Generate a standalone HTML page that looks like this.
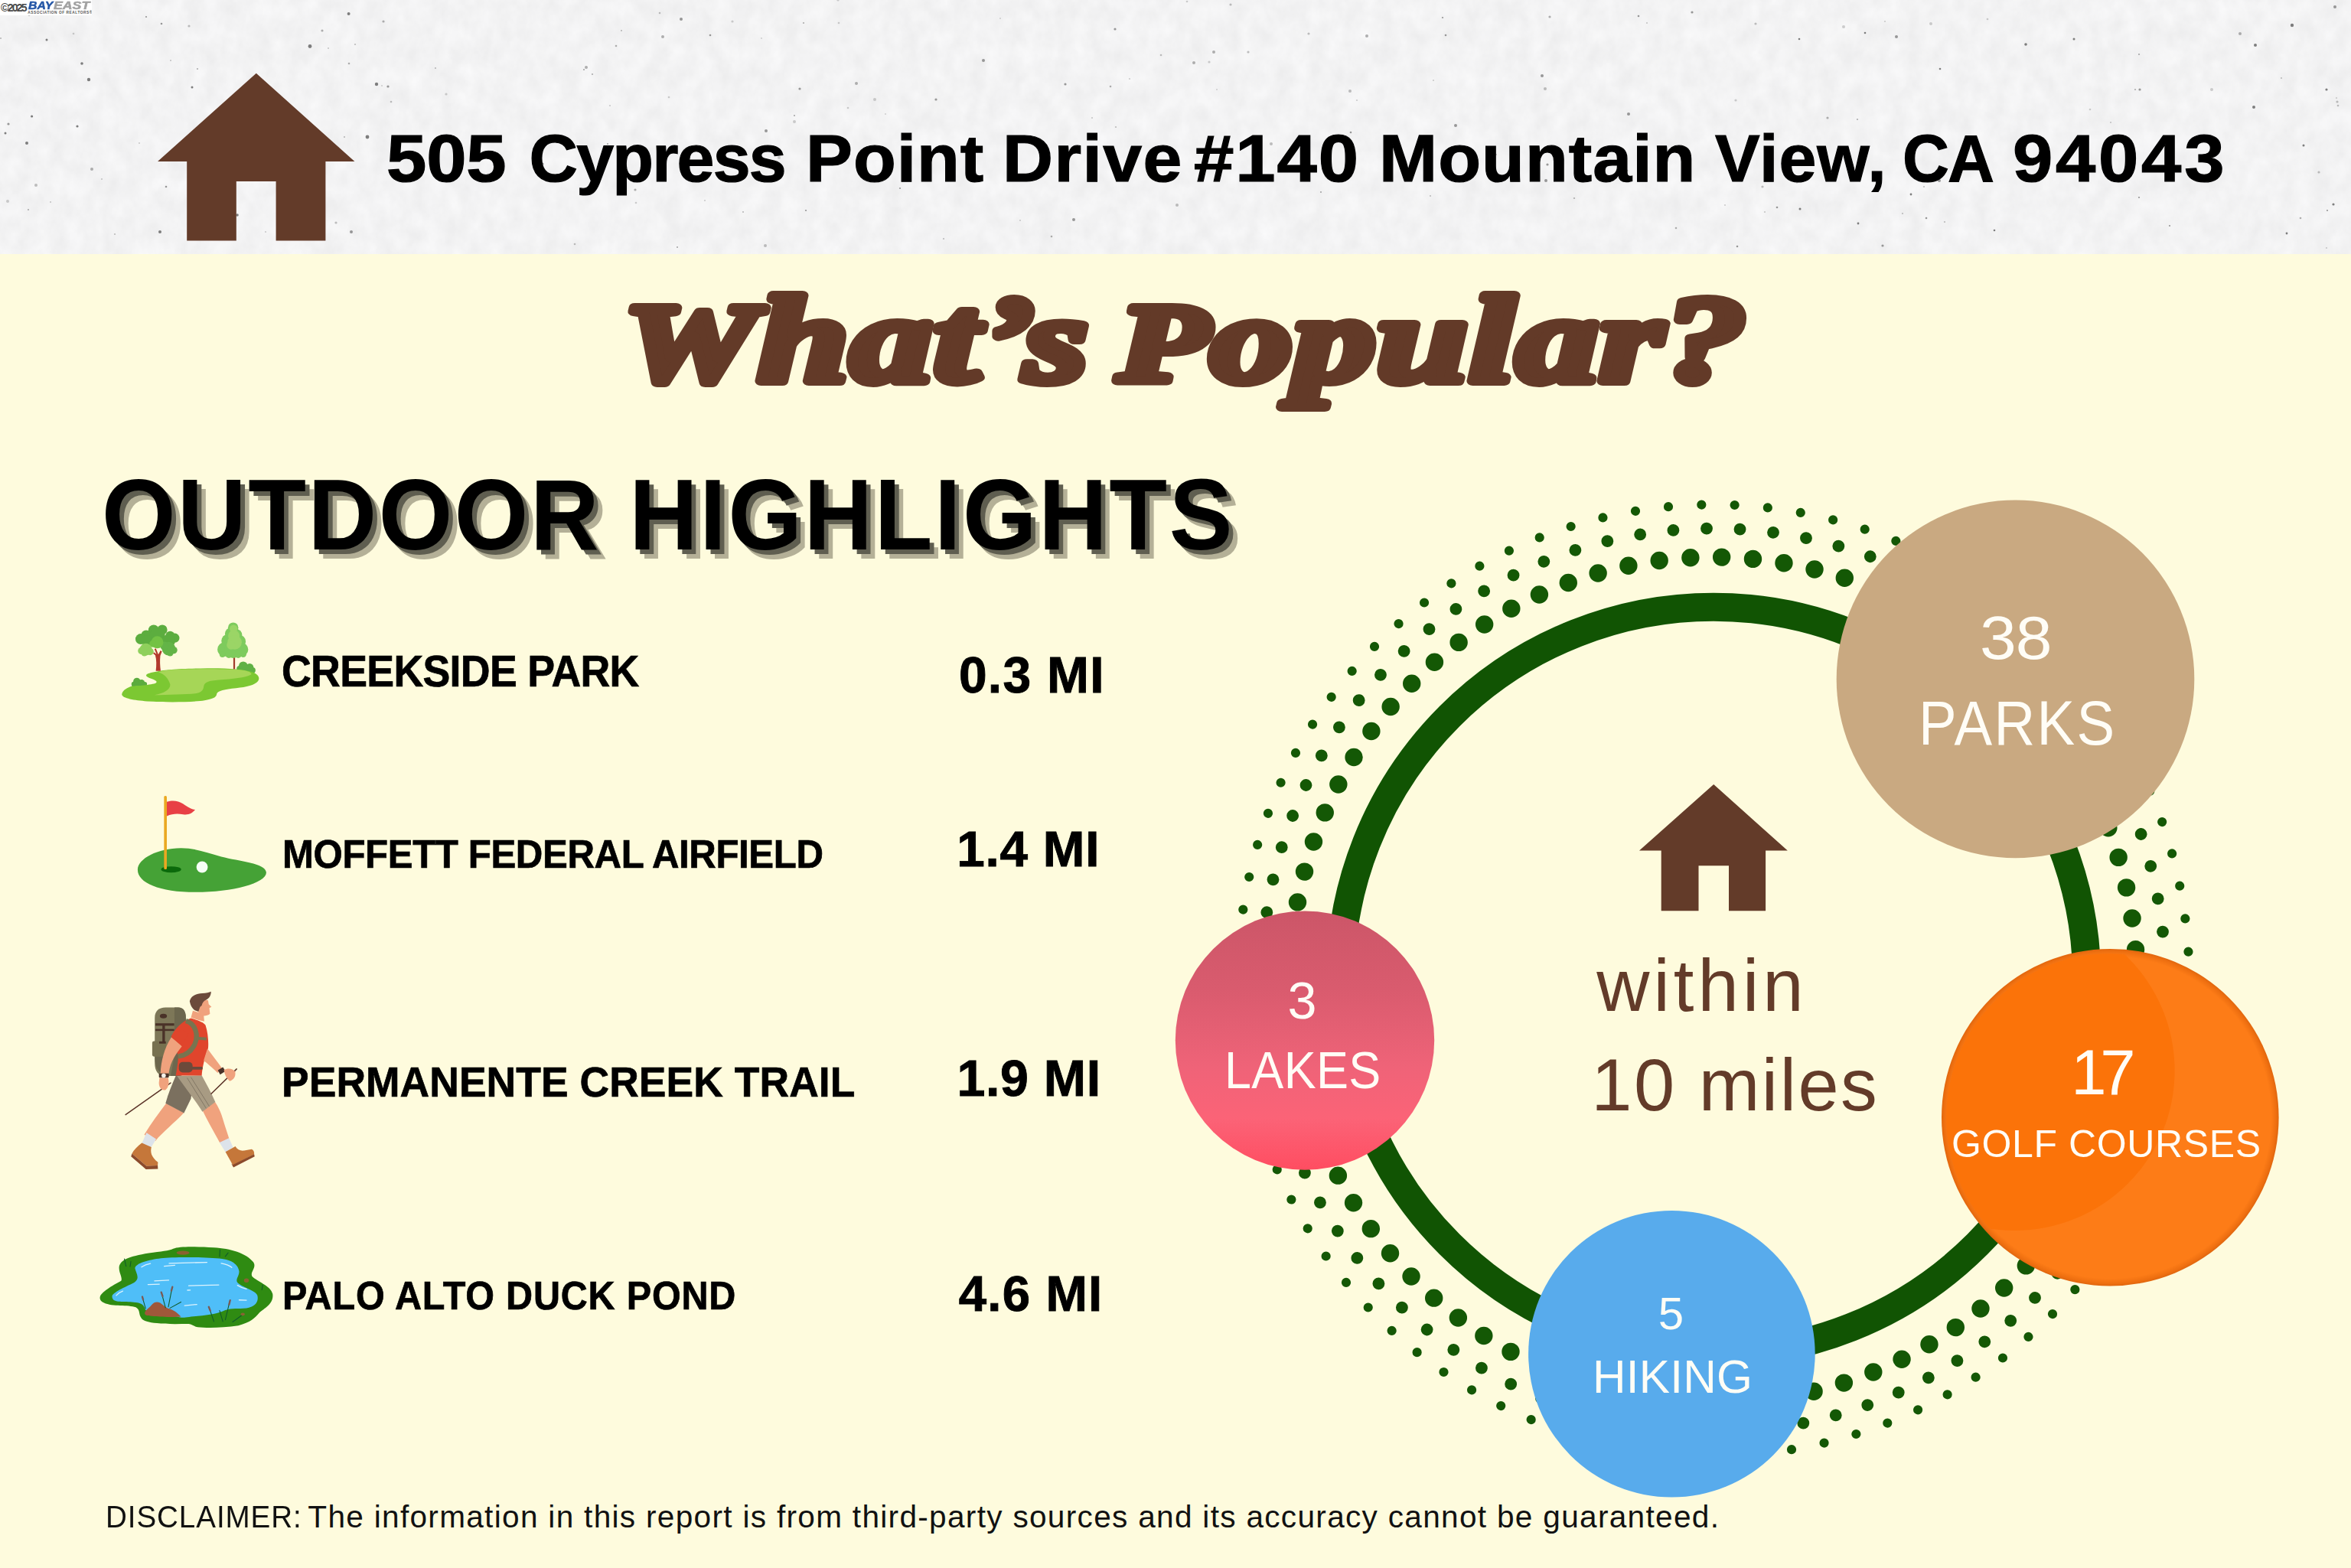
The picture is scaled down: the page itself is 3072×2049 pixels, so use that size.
<!DOCTYPE html>
<html lang="en">
<head>
<meta charset="utf-8">
<title>What's Popular? - 505 Cypress Point Drive #140</title>
<style>
html,body{margin:0;padding:0;}
body{width:3072px;height:2049px;position:relative;overflow:hidden;background:#fefbdd;font-family:"Liberation Sans",sans-serif;}
.abs{position:absolute;}
.t{position:absolute;white-space:pre;line-height:1;color:#000;font-family:"Liberation Sans",sans-serif;}
.b{font-weight:700;}
.w{color:#fffdf6;}
#hdr{left:0;top:0;width:3072px;height:332px;background:#f1f1f1;overflow:hidden;}
svg{position:absolute;overflow:visible;}
</style>
</head>
<body>
<!-- HEADER -->
<div id="hdr" class="abs">
<!--HDRTEX-START--><svg style="left:0;top:0" width="3072" height="332" viewBox="0 0 3072 332">
<defs><filter id="pn" x="0" y="0" width="100%" height="100%" color-interpolation-filters="sRGB"><feTurbulence type="fractalNoise" baseFrequency="0.045 0.035" numOctaves="5" seed="5"/><feColorMatrix type="matrix" values="0.06 0 0 0 0.922  0.06 0 0 0 0.922  0.06 0 0 0 0.925  0 0 0 0 1"/></filter></defs>
<rect x="0" y="0" width="3072" height="332" fill="#f1f1f1" filter="url(#pn)"/>
<circle cx="116" cy="104" r="2.2" fill="#555" opacity="0.75"/><circle cx="405" cy="60.5" r="2.4" fill="#555" opacity="0.75"/><circle cx="492" cy="110" r="2.2" fill="#555" opacity="0.75"/><circle cx="480" cy="179" r="2.4" fill="#555" opacity="0.75"/><circle cx="35" cy="187" r="2" fill="#555" opacity="0.75"/><circle cx="209" cy="303" r="2" fill="#555" opacity="0.75"/><circle cx="310" cy="281" r="1.8" fill="#555" opacity="0.75"/><circle cx="107" cy="83" r="1.8" fill="#555" opacity="0.75"/><circle cx="455.6" cy="18" r="2" fill="#555" opacity="0.75"/><circle cx="101" cy="165" r="1.6" fill="#555" opacity="0.75"/><circle cx="41.6" cy="152" r="1.6" fill="#555" opacity="0.75"/><circle cx="251" cy="114" r="1.5" fill="#555" opacity="0.75"/><circle cx="61" cy="52" r="1.5" fill="#555" opacity="0.75"/><circle cx="7" cy="174" r="1.5" fill="#555" opacity="0.75"/><circle cx="2351" cy="51" r="1.3" fill="#555" opacity="0.75"/><circle cx="2437" cy="43" r="1.3" fill="#555" opacity="0.75"/><circle cx="2710" cy="51" r="1.5" fill="#555" opacity="0.75"/><circle cx="2647" cy="58" r="1.8" fill="#555" opacity="0.75"/><circle cx="2947" cy="59" r="2.0" fill="#555" opacity="0.75"/><circle cx="2995" cy="33" r="2.2" fill="#555" opacity="0.75"/><circle cx="3040" cy="117" r="1.6" fill="#555" opacity="0.75"/><circle cx="2945" cy="140" r="2" fill="#555" opacity="0.75"/><circle cx="3010" cy="190" r="1.5" fill="#555" opacity="0.75"/><circle cx="3049" cy="267" r="1.6" fill="#555" opacity="0.75"/><circle cx="2988" cy="305" r="1.4" fill="#555" opacity="0.75"/><circle cx="2352" cy="273" r="1.5" fill="#555" opacity="0.75"/><circle cx="2428" cy="292" r="1.4" fill="#555" opacity="0.75"/><circle cx="2497" cy="254" r="1.4" fill="#555" opacity="0.75"/><circle cx="2606" cy="301" r="1.3" fill="#555" opacity="0.75"/><circle cx="2535" cy="90" r="1.3" fill="#555" opacity="0.75"/><circle cx="2495" cy="200" r="1.3" fill="#555" opacity="0.75"/><circle cx="995" cy="50" r="0.9" fill="#666" opacity="0.3"/><circle cx="2523" cy="31" r="2.0" fill="#666" opacity="0.3"/><circle cx="2795" cy="71" r="0.9" fill="#666" opacity="0.65"/><circle cx="1285" cy="79" r="2.0" fill="#666" opacity="0.65"/><circle cx="182" cy="187" r="1.1" fill="#666" opacity="0.3"/><circle cx="1773" cy="131" r="1.1" fill="#666" opacity="0.3"/><circle cx="1710" cy="44" r="1.6" fill="#666" opacity="0.4"/><circle cx="1661" cy="188" r="2.0" fill="#666" opacity="0.4"/><circle cx="317" cy="188" r="1.1" fill="#666" opacity="0.5"/><circle cx="299" cy="235" r="2.0" fill="#666" opacity="0.3"/><circle cx="1902" cy="164" r="2.0" fill="#666" opacity="0.65"/><circle cx="2388" cy="154" r="1.6" fill="#666" opacity="0.5"/><circle cx="921" cy="262" r="1.1" fill="#666" opacity="0.3"/><circle cx="1765" cy="173" r="1.3" fill="#666" opacity="0.65"/><circle cx="885" cy="323" r="0.9" fill="#666" opacity="0.65"/><circle cx="507" cy="113" r="1.6" fill="#666" opacity="0.65"/><circle cx="120" cy="221" r="2.0" fill="#666" opacity="0.5"/><circle cx="1045" cy="116" r="1.6" fill="#666" opacity="0.65"/><circle cx="211" cy="31" r="1.3" fill="#666" opacity="0.65"/><circle cx="2141" cy="21" r="1.3" fill="#666" opacity="0.65"/><circle cx="874" cy="127" r="1.3" fill="#666" opacity="0.3"/><circle cx="2890" cy="117" r="2.0" fill="#666" opacity="0.3"/><circle cx="1517" cy="72" r="1.3" fill="#666" opacity="0.4"/><circle cx="2268" cy="131" r="1.6" fill="#666" opacity="0.3"/><circle cx="511" cy="133" r="1.3" fill="#666" opacity="0.4"/><circle cx="2517" cy="285" r="1.3" fill="#666" opacity="0.65"/><circle cx="3030" cy="225" r="1.6" fill="#666" opacity="0.4"/><circle cx="464" cy="58" r="1.1" fill="#666" opacity="0.4"/><circle cx="37" cy="274" r="1.1" fill="#666" opacity="0.5"/><circle cx="866" cy="48" r="2.0" fill="#666" opacity="0.5"/><circle cx="1873" cy="105" r="1.1" fill="#666" opacity="0.3"/><circle cx="1403" cy="287" r="2.0" fill="#666" opacity="0.65"/><circle cx="1223" cy="130" r="1.6" fill="#666" opacity="0.65"/><circle cx="191" cy="22" r="1.1" fill="#666" opacity="0.65"/><circle cx="499" cy="112" r="0.9" fill="#666" opacity="0.3"/><circle cx="1" cy="50" r="0.9" fill="#666" opacity="0.5"/><circle cx="1885" cy="23" r="1.1" fill="#666" opacity="0.65"/><circle cx="456" cy="83" r="1.3" fill="#666" opacity="0.5"/><circle cx="1457" cy="38" r="1.6" fill="#666" opacity="0.65"/><circle cx="1476" cy="103" r="1.1" fill="#666" opacity="0.3"/><circle cx="2303" cy="244" r="1.6" fill="#666" opacity="0.4"/><circle cx="1586" cy="68" r="2.0" fill="#666" opacity="0.5"/><circle cx="450" cy="179" r="0.9" fill="#666" opacity="0.5"/><circle cx="3006" cy="285" r="1.3" fill="#666" opacity="0.5"/><circle cx="2790" cy="117" r="1.1" fill="#666" opacity="0.5"/><circle cx="1955" cy="202" r="1.1" fill="#666" opacity="0.4"/><circle cx="2514" cy="244" r="1.1" fill="#666" opacity="0.4"/><circle cx="1590" cy="117" r="0.9" fill="#666" opacity="0.3"/><circle cx="2427" cy="156" r="1.1" fill="#666" opacity="0.5"/><circle cx="1374" cy="309" r="1.3" fill="#666" opacity="0.5"/><circle cx="247" cy="34" r="1.6" fill="#666" opacity="0.4"/><circle cx="1038" cy="159" r="2.0" fill="#666" opacity="0.3"/><circle cx="1473" cy="215" r="0.9" fill="#666" opacity="0.3"/><circle cx="2795" cy="258" r="1.1" fill="#666" opacity="0.65"/><circle cx="2731" cy="143" r="1.3" fill="#666" opacity="0.3"/><circle cx="2460" cy="321" r="1.6" fill="#666" opacity="0.65"/><circle cx="1233" cy="312" r="1.1" fill="#666" opacity="0.4"/><circle cx="3051" cy="9" r="2.0" fill="#666" opacity="0.65"/><circle cx="2478" cy="48" r="2.0" fill="#666" opacity="0.65"/><circle cx="2019" cy="116" r="2.0" fill="#666" opacity="0.4"/><circle cx="66" cy="264" r="0.9" fill="#666" opacity="0.4"/><circle cx="1333" cy="288" r="1.1" fill="#666" opacity="0.3"/><circle cx="774" cy="97" r="1.1" fill="#666" opacity="0.5"/><circle cx="797" cy="138" r="1.1" fill="#666" opacity="0.3"/><circle cx="2796" cy="117" r="1.6" fill="#666" opacity="0.65"/><circle cx="2541" cy="290" r="1.1" fill="#666" opacity="0.4"/><circle cx="1608" cy="6" r="1.6" fill="#666" opacity="0.4"/><circle cx="1869" cy="256" r="1.1" fill="#666" opacity="0.4"/><circle cx="435" cy="204" r="0.9" fill="#666" opacity="0.3"/><circle cx="1001" cy="171" r="2.0" fill="#666" opacity="0.65"/><circle cx="2409" cy="35" r="2.0" fill="#666" opacity="0.3"/><circle cx="763" cy="91" r="0.9" fill="#666" opacity="0.65"/><circle cx="1726" cy="251" r="0.9" fill="#666" opacity="0.65"/><circle cx="1000" cy="321" r="2.0" fill="#666" opacity="0.4"/><circle cx="2128" cy="149" r="2.0" fill="#666" opacity="0.65"/><circle cx="1560" cy="82" r="2.0" fill="#666" opacity="0.5"/><circle cx="2835" cy="295" r="1.1" fill="#666" opacity="0.65"/><circle cx="421" cy="40" r="1.6" fill="#666" opacity="0.5"/><circle cx="223" cy="79" r="0.9" fill="#666" opacity="0.4"/><circle cx="2057" cy="259" r="1.1" fill="#666" opacity="0.5"/><circle cx="439" cy="291" r="1.6" fill="#666" opacity="0.4"/><circle cx="2294" cy="31" r="1.6" fill="#666" opacity="0.4"/><circle cx="3041" cy="275" r="1.1" fill="#666" opacity="0.65"/><circle cx="3054" cy="133" r="1.6" fill="#666" opacity="0.4"/><circle cx="1096" cy="30" r="1.3" fill="#666" opacity="0.3"/><circle cx="1038" cy="151" r="0.9" fill="#666" opacity="0.65"/><circle cx="1018" cy="206" r="2.0" fill="#666" opacity="0.3"/><circle cx="347" cy="303" r="1.1" fill="#666" opacity="0.3"/><circle cx="258" cy="90" r="1.1" fill="#666" opacity="0.5"/><circle cx="2322" cy="271" r="1.3" fill="#666" opacity="0.65"/><circle cx="459" cy="303" r="2.0" fill="#666" opacity="0.65"/><circle cx="2152" cy="30" r="0.9" fill="#666" opacity="0.4"/><circle cx="1307" cy="24" r="0.9" fill="#666" opacity="0.3"/><circle cx="2463" cy="28" r="1.1" fill="#666" opacity="0.3"/><circle cx="812" cy="40" r="0.9" fill="#666" opacity="0.5"/><circle cx="3055" cy="138" r="1.3" fill="#666" opacity="0.4"/><circle cx="133" cy="234" r="0.9" fill="#666" opacity="0.4"/><circle cx="805" cy="60" r="1.3" fill="#666" opacity="0.5"/><circle cx="1631" cy="68" r="1.6" fill="#666" opacity="0.4"/><circle cx="831" cy="265" r="1.3" fill="#666" opacity="0.3"/><circle cx="47" cy="242" r="2.0" fill="#666" opacity="0.4"/><circle cx="1580" cy="81" r="1.6" fill="#666" opacity="0.3"/><circle cx="2022" cy="215" r="1.6" fill="#666" opacity="0.65"/><circle cx="2981" cy="102" r="1.1" fill="#666" opacity="0.4"/><circle cx="1053" cy="275" r="1.1" fill="#666" opacity="0.65"/><circle cx="3040" cy="324" r="1.1" fill="#666" opacity="0.3"/><circle cx="217" cy="244" r="1.3" fill="#666" opacity="0.65"/><circle cx="501" cy="28" r="1.6" fill="#666" opacity="0.5"/><circle cx="1839" cy="229" r="0.9" fill="#666" opacity="0.65"/><circle cx="569" cy="89" r="0.9" fill="#666" opacity="0.5"/><circle cx="1119" cy="109" r="2.0" fill="#666" opacity="0.5"/><circle cx="751" cy="319" r="1.3" fill="#666" opacity="0.4"/><circle cx="1095" cy="0" r="1.6" fill="#666" opacity="0.3"/><circle cx="1458" cy="166" r="1.1" fill="#666" opacity="0.4"/><circle cx="1551" cy="2" r="1.3" fill="#666" opacity="0.3"/><circle cx="442" cy="194" r="1.6" fill="#666" opacity="0.3"/><circle cx="921" cy="208" r="0.9" fill="#666" opacity="0.4"/><circle cx="2020" cy="236" r="2.0" fill="#666" opacity="0.65"/><circle cx="2348" cy="238" r="1.6" fill="#666" opacity="0.4"/><circle cx="873" cy="204" r="1.1" fill="#666" opacity="0.3"/><circle cx="2534" cy="236" r="2.0" fill="#666" opacity="0.65"/><circle cx="2254" cy="268" r="1.1" fill="#666" opacity="0.3"/><circle cx="2539" cy="193" r="1.1" fill="#666" opacity="0.3"/><circle cx="96" cy="44" r="1.3" fill="#666" opacity="0.3"/><circle cx="1157" cy="149" r="0.9" fill="#666" opacity="0.3"/><circle cx="1924" cy="225" r="1.6" fill="#666" opacity="0.5"/><circle cx="10" cy="263" r="2.0" fill="#666" opacity="0.3"/><circle cx="2025" cy="22" r="1.6" fill="#666" opacity="0.5"/><circle cx="2486" cy="279" r="1.1" fill="#666" opacity="0.4"/><circle cx="709" cy="214" r="1.6" fill="#666" opacity="0.65"/><circle cx="2597" cy="25" r="1.3" fill="#666" opacity="0.3"/><circle cx="1895" cy="212" r="0.9" fill="#666" opacity="0.4"/><circle cx="1019" cy="215" r="1.3" fill="#666" opacity="0.4"/><circle cx="38" cy="20" r="1.3" fill="#666" opacity="0.3"/><circle cx="2126" cy="223" r="1.3" fill="#666" opacity="0.5"/><circle cx="1427" cy="154" r="0.9" fill="#666" opacity="0.4"/><circle cx="957" cy="28" r="1.6" fill="#666" opacity="0.3"/><circle cx="890" cy="25" r="2.0" fill="#666" opacity="0.65"/><circle cx="3053" cy="128" r="1.1" fill="#666" opacity="0.3"/><circle cx="1786" cy="47" r="2.0" fill="#666" opacity="0.5"/><circle cx="2927" cy="44" r="2.0" fill="#666" opacity="0.5"/><circle cx="2724" cy="232" r="1.1" fill="#666" opacity="0.65"/><circle cx="2758" cy="160" r="0.9" fill="#666" opacity="0.4"/><circle cx="11" cy="162" r="1.6" fill="#666" opacity="0.65"/><circle cx="928" cy="46" r="1.3" fill="#666" opacity="0.65"/><circle cx="971" cy="277" r="0.9" fill="#666" opacity="0.5"/><circle cx="2306" cy="277" r="0.9" fill="#666" opacity="0.4"/><circle cx="2190" cy="298" r="1.3" fill="#666" opacity="0.5"/><circle cx="1143" cy="130" r="2.0" fill="#666" opacity="0.3"/><circle cx="1108" cy="141" r="1.3" fill="#666" opacity="0.3"/><circle cx="862" cy="17" r="1.3" fill="#666" opacity="0.4"/><circle cx="766" cy="88" r="2.0" fill="#666" opacity="0.5"/><circle cx="583" cy="123" r="1.6" fill="#666" opacity="0.3"/><circle cx="2494" cy="208" r="2.0" fill="#666" opacity="0.4"/><circle cx="2211" cy="16" r="1.6" fill="#666" opacity="0.65"/><circle cx="1889" cy="46" r="1.3" fill="#666" opacity="0.65"/><circle cx="150" cy="306" r="1.1" fill="#666" opacity="0.4"/><circle cx="1451" cy="113" r="1.3" fill="#666" opacity="0.5"/><circle cx="2270" cy="322" r="1.3" fill="#666" opacity="0.65"/><circle cx="2015" cy="99" r="2.0" fill="#666" opacity="0.65"/><circle cx="368" cy="212" r="0.9" fill="#666" opacity="0.4"/><circle cx="1538" cy="268" r="2.0" fill="#666" opacity="0.4"/><circle cx="1392" cy="110" r="1.6" fill="#666" opacity="0.65"/><circle cx="429" cy="63" r="0.9" fill="#666" opacity="0.4"/><circle cx="1050" cy="30" r="1.1" fill="#666" opacity="0.5"/><circle cx="794" cy="188" r="0.9" fill="#666" opacity="0.65"/><circle cx="1176" cy="246" r="1.1" fill="#666" opacity="0.65"/><circle cx="830" cy="248" r="1.6" fill="#666" opacity="0.5"/><circle cx="1764" cy="119" r="2.0" fill="#666" opacity="0.4"/><circle cx="284" cy="296" r="1.6" fill="#666" opacity="0.65"/>
</svg><!--HDRTEX-END-->
</div>
<!--WM-START-->
<div class="abs" style="left:0;top:0;width:120px;height:19.5px;background:#fff;overflow:hidden">
<div class="t b" style="left:1.1px;top:3.2px;font-size:14.21px;letter-spacing:-1.9px;color:#4a4a4a;">©2025</div>
<div class="t b" style="left:36.5px;top:-0.1px;font-size:14.78px;letter-spacing:0;color:#2456a6;font-style:italic;transform-origin:0 0;transform:scaleX(1.07);-webkit-text-stroke:0.5px #2456a6;">BAY</div>
<div class="t b" style="left:70.2px;top:-0.1px;font-size:14.78px;letter-spacing:0;color:#a2a2a2;font-style:italic;transform-origin:0 0;transform:scaleX(1.2);-webkit-text-stroke:0.5px #a2a2a2;">EAST</div>
<div class="t b" style="left:36.2px;top:15.4px;font-size:4.78px;letter-spacing:0.557px;color:#555;">ASSOCIATION OF REALTORS®</div>
</div>
<!--WM-END-->
<svg style="left:0;top:0" width="3072" height="2049" viewBox="0 0 3072 2049">
<!-- big house -->
<path fill="#633b29" d="M334.8 95.7 L463.4 211 H425.4 V314.4 H360.6 V237 H308.8 V314.4 H244.2 V211 H206 Z"/>
</svg>
<div class="t b" id="addr" style="left:0;top:162.5px;font-size:87.86px;width:3072px;height:90px;-webkit-text-stroke:1.2px #000;"><span style="position:absolute;left:504.5px;top:0;letter-spacing:-0.093px;transform-origin:0 0;transform:scaleX(1.07)">505</span> <span style="position:absolute;left:691.5px;top:0;letter-spacing:-1.767px;transform-origin:0 0;transform:scaleX(1)">Cypress</span> <span style="position:absolute;left:1052.8px;top:0;letter-spacing:0.913px;transform-origin:0 0;transform:scaleX(1.04)">Point</span> <span style="position:absolute;left:1310.0px;top:0;letter-spacing:1.394px;transform-origin:0 0;transform:scaleX(1.04)">Drive</span> <span style="position:absolute;left:1560.0px;top:0;letter-spacing:1.807px;transform-origin:0 0;transform:scaleX(1.07)">#140</span> <span style="position:absolute;left:1802.0px;top:0;letter-spacing:1.016px;transform-origin:0 0;transform:scaleX(1.04)">Mountain</span> <span style="position:absolute;left:2241.0px;top:0;letter-spacing:1.0px;transform-origin:0 0;transform:scaleX(1)">View,</span> <span style="position:absolute;left:2485.8px;top:0;letter-spacing:-2.083px;transform-origin:0 0;transform:scaleX(0.96)">CA</span> <span style="position:absolute;left:2629.5px;top:0;letter-spacing:3.505px;transform-origin:0 0;transform:scaleX(1.07)">94043</span> </div>

<!-- TITLE -->
<!--TITLE-START-->
<svg style="left:0;top:340px" width="3072" height="240" viewBox="0 340 3072 240">
<g transform="translate(815 497.5) scale(1.335 1)">
<text x="0" y="0" font-family="Liberation Serif" font-weight="700" font-style="italic" font-size="160" letter-spacing="1.5" word-spacing="-14" fill="#633a28" stroke="#633a28" stroke-width="12" stroke-linejoin="round" stroke-linecap="round"><tspan font-size="146">W</tspan>hat’s <tspan font-size="146">P</tspan>opular?</text>
</g>
</svg>
<!--TITLE-END-->

<!-- HEADING -->
<div class="t b" id="h2" style="left:133px;top:607px;font-size:131.97px;letter-spacing:2.753px;text-shadow:6.2px 5.8px 0 #5f5e50,12.2px 11.5px 0 #b4b097;transform-origin:0 0;transform:scaleX(0.94);">OUTDOOR HIGHLIGHTS</div>

<!-- LIST -->
<div class="t b" id="l1" style="left:368.2px;top:849.5px;font-size:56.52px;letter-spacing:-0.729px;transform-origin:0 0;transform:scaleX(0.95);-webkit-text-stroke:0.7px #000;">CREEKSIDE PARK</div>
<div class="t b" id="l2" style="left:368.6px;top:1090.6px;font-size:51.74px;letter-spacing:-0.384px;transform-origin:0 0;transform:scaleX(0.95);-webkit-text-stroke:0.7px #000;">MOFFETT FEDERAL AIRFIELD</div>
<div class="t b" id="l3" style="left:368.3px;top:1385.6px;font-size:56.23px;letter-spacing:0.08px;transform-origin:0 0;transform:scaleX(0.95);-webkit-text-stroke:0.7px #000;">PERMANENTE CREEK TRAIL</div>
<div class="t b" id="l4" style="left:368.6px;top:1668.2px;font-size:51.09px;letter-spacing:0.854px;transform-origin:0 0;transform:scaleX(0.95);-webkit-text-stroke:0.7px #000;">PALO ALTO DUCK POND</div>
<div class="t b" id="d1" style="left:1252.9px;top:850px;font-size:65.94px;letter-spacing:1.28px;-webkit-text-stroke:0.9px #000;">0.3 MI</div>
<div class="t b" id="d2" style="left:1250.2px;top:1076.5px;font-size:65.65px;letter-spacing:0.76px;-webkit-text-stroke:0.9px #000;">1.4 MI</div>
<div class="t b" id="d3" style="left:1250.5px;top:1376px;font-size:66.38px;letter-spacing:0.64px;-webkit-text-stroke:0.9px #000;">1.9 MI</div>
<div class="t b" id="d4" style="left:1252.8px;top:1657.8px;font-size:65.36px;letter-spacing:1.16px;-webkit-text-stroke:0.9px #000;">4.6 MI</div>

<!-- ICONS -->
<!--ICONS-START-->
<!-- park icon -->
<svg style="left:140px;top:800px" width="220" height="130" viewBox="0 0 2351 1389">
<!-- right bush -->
<g fill="#5fb144"><circle cx="1900" cy="750" r="62"/><circle cx="1990" cy="770" r="55"/><circle cx="1850" cy="790" r="42"/><circle cx="2030" cy="810" r="42"/><rect x="1830" y="780" width="230" height="60"/></g>
<!-- left bush -->
<g fill="#5cab3f"><circle cx="415" cy="965" r="50"/><circle cx="480" cy="985" r="45"/><circle cx="375" cy="1005" r="36"/><circle cx="525" cy="1005" r="32"/><rect x="345" y="990" width="210" height="45"/></g>
<!-- grass -->
<path fill="#7cc832" d="M205 1150 C215 1085 290 1050 345 1035 C420 1025 500 1025 560 1015 C640 1005 695 995 690 970 C680 940 585 925 550 895 C525 860 600 845 700 828 C820 800 1000 790 1400 782 C1700 780 1900 795 2030 835 C2110 865 2140 915 2105 965 C2060 1020 1950 1045 1800 1060 C1640 1075 1545 1095 1530 1140 C1525 1190 1480 1215 1300 1240 C1100 1258 800 1258 560 1245 C380 1232 215 1205 205 1150 Z"/>
<path fill="#a6d657" d="M715 838 C800 860 860 930 880 1010 C885 1080 800 1130 660 1158 C850 1150 1100 1150 1230 1135 C1320 1120 1345 1085 1350 1030 C1360 975 1420 955 1560 945 C1750 930 1930 915 2010 870 C2030 845 1960 815 1850 805 C1600 790 1150 790 900 805 C820 812 760 825 715 838 Z"/>
<!-- tree 1 trunk -->
<path fill="#b2392c" d="M680 820 C690 740 690 660 672 600 L640 575 L655 560 L690 585 L660 515 L680 505 L715 590 L745 535 L765 548 L742 610 C735 680 738 750 748 820 Z"/>
<!-- tree 1 foliage -->
<g fill="#5cad3f"><circle cx="650" cy="250" r="75"/><circle cx="770" cy="245" r="70"/><circle cx="545" cy="320" r="70"/><circle cx="470" cy="375" r="75"/><circle cx="880" cy="330" r="65"/><circle cx="945" cy="360" r="65"/><circle cx="700" cy="330" r="110"/><circle cx="560" cy="400" r="80"/><circle cx="860" cy="400" r="90"/></g>
<g fill="#63b447"><circle cx="860" cy="510" r="95"/><circle cx="930" cy="530" r="50"/><circle cx="800" cy="470" r="60"/><circle cx="880" cy="570" r="45"/></g>
<g fill="#73c244"><circle cx="700" cy="420" r="85"/><circle cx="640" cy="440" r="50"/></g>
<g fill="#8fd05c"><circle cx="540" cy="520" r="85"/><circle cx="480" cy="540" r="50"/><circle cx="600" cy="550" r="50"/><circle cx="520" cy="570" r="45"/></g>
<!-- tree 2 -->
<rect x="1762" y="620" width="24" height="175" fill="#a23c2c"/>
<g fill="#7ecb5d"><circle cx="1760" cy="215" r="72"/><circle cx="1730" cy="300" r="85"/><circle cx="1800" cy="320" r="85"/><circle cx="1690" cy="400" r="95"/><circle cx="1840" cy="410" r="95"/><circle cx="1640" cy="520" r="100"/><circle cx="1760" cy="520" r="120"/><circle cx="1875" cy="520" r="95"/><circle cx="1700" cy="590" r="50"/><circle cx="1830" cy="590" r="50"/><circle cx="1610" cy="590" r="40"/><circle cx="1900" cy="585" r="45"/></g>
<g fill="#9bd566"><circle cx="1765" cy="230" r="55"/><circle cx="1770" cy="330" r="80"/><circle cx="1780" cy="420" r="100"/><circle cx="1730" cy="460" r="60"/></g>
</svg>
<!-- golf icon -->
<svg style="left:160px;top:1030px" width="220" height="150" viewBox="0 0 2300 1568">
<path fill="#45a236" d="M208 1110 C215 960 480 820 800 818 C1000 818 1150 880 1350 935 C1600 1000 1950 1020 1965 1150 C1965 1300 1500 1420 1000 1420 C500 1420 205 1290 208 1110 Z"/>
<ellipse cx="665" cy="1110" rx="137" ry="42" fill="#0b6a0b"/>
<rect x="568" y="105" width="38" height="1003" rx="16" fill="#eaa821"/>
<path fill="#e84045" d="M606 185 C700 160 760 175 830 215 C890 255 940 290 992 293 C960 340 900 370 830 358 C740 345 680 350 606 382 Z"/>
<circle cx="1088" cy="1077" r="78" fill="#f6fff6"/>
</svg>
<!-- hiker icon -->
<svg style="left:150px;top:1280px" width="200" height="260" viewBox="0 0 1206 1568">
<!-- back pole -->
<path d="M440 815 L85 1065" stroke="#5b3328" stroke-width="9" stroke-linecap="round" fill="none"/>
<!-- backpack -->
<path fill="#7d7758" d="M315 300 C315 250 345 220 400 220 L500 220 C540 220 560 250 560 300 L560 700 C560 740 540 760 500 760 L400 760 C340 760 315 720 315 660 Z"/>
<path fill="#6c674e" d="M470 220 L500 220 C540 220 560 250 560 300 L560 700 C560 740 540 760 500 760 L440 760 L470 600 Z"/>
<rect x="295" y="485" width="110" height="122" rx="14" fill="#77714f"/>
<path fill="#6b664c" d="M315 607 h90 v60 c0 50 -20 80 -50 60 c-25 -20 -40 -60 -40 -120z"/>
<g fill="#4a3228"><rect x="320" y="345" width="148" height="19"/><rect x="320" y="390" width="148" height="15"/><rect x="375" y="360" width="20" height="140"/><rect x="350" y="488" width="52" height="17"/><ellipse cx="383" cy="288" rx="28" ry="18"/></g>
<!-- back leg skin -->
<path fill="#f0a27d" d="M405 975 L545 1050 C470 1130 380 1200 320 1272 L232 1222 C290 1130 340 1060 405 975 Z"/>
<!-- back sock -->
<path fill="#dde3ea" d="M250 1208 L326 1258 L286 1322 L213 1290 Z"/>
<!-- back boot -->
<path fill="#c5773a" d="M213 1288 L288 1320 C280 1360 285 1395 340 1440 L338 1468 L250 1470 L135 1372 C150 1340 180 1315 213 1288 Z"/>
<path fill="#8b4a2b" d="M135 1372 L250 1470 L338 1466 L340 1492 L245 1495 L128 1395 Z"/>
<!-- front leg skin -->
<path fill="#f0a27d" d="M680 1010 L790 965 C840 1040 850 1100 870 1160 L900 1252 L828 1288 C780 1200 740 1130 700 1050 Z"/>
<!-- front sock -->
<path fill="#dde3ea" d="M825 1285 L900 1250 L932 1322 L872 1360 Z"/>
<!-- front boot -->
<path fill="#c5773a" d="M872 1358 L950 1315 C965 1340 990 1352 1020 1348 L1078 1338 C1095 1345 1100 1360 1098 1378 L930 1462 Z"/>
<path fill="#8b4a2b" d="M1098 1376 L1102 1395 L935 1480 L918 1450 L930 1460 Z"/>
<!-- shorts back leg -->
<path fill="#7b705f" d="M480 760 L620 760 L600 940 L545 1052 L400 975 C420 900 450 830 480 760 Z"/>
<!-- shorts front leg -->
<path fill="#a89b83" d="M490 760 L685 755 C720 820 760 890 792 965 L690 1042 C640 960 560 860 490 760 Z"/>
<path d="M570 775 L720 1015 M600 770 L745 1000" stroke="#7b705f" stroke-width="5" fill="none"/>
<!-- torso shirt -->
<path fill="#e0452c" d="M600 305 C650 320 700 335 715 360 C735 420 740 500 735 545 C710 610 690 690 685 757 L480 757 C490 700 500 650 500 600 L445 450 C470 390 530 330 600 305 Z"/>
<!-- neck & head -->
<path fill="#f0a27d" d="M615 245 L700 275 L705 330 C670 325 630 310 600 300 Z"/>
<path fill="#f0a27d" d="M665 150 L735 165 L740 195 L762 215 L745 225 L750 270 C735 285 705 290 690 285 L650 250 Z"/>
<path fill="#6c4a3b" d="M590 170 C600 130 640 110 690 108 C720 108 745 100 758 95 C760 120 745 150 720 160 C700 168 690 185 685 205 L672 215 L660 250 C630 250 600 225 590 170 Z"/>
<!-- back arm -->
<path fill="#f0a27d" d="M445 455 L530 525 C480 590 440 640 425 740 L360 740 C365 640 390 540 445 455 Z"/>
<!-- sleeve -->
<path fill="#e0452c" d="M445 448 C480 400 540 390 580 420 L530 528 Z"/>
<!-- back hand -->
<path fill="#f0a27d" d="M352 775 L420 775 C430 810 425 850 400 870 C370 880 345 850 348 810 Z"/>
<rect x="348" y="740" width="78" height="34" rx="8" fill="#4a3228"/><circle cx="385" cy="757" r="17" fill="#f4f1ea"/>
<!-- strap -->
<path d="M560 325 C640 350 660 440 630 510 C600 570 550 600 500 605" stroke="#78744f" stroke-width="38" fill="none"/>
<path d="M645 462 L722 468" stroke="#78744f" stroke-width="22" fill="none"/>
<!-- belt/pouch -->
<rect x="505" y="650" width="108" height="82" rx="30" fill="#6c4a3b"/><rect x="600" y="688" width="92" height="22" rx="8" fill="#6c4a3b"/>
<!-- front pole -->
<path d="M960 705 L760 900" stroke="#5b3328" stroke-width="9" stroke-linecap="round" fill="none"/>
<!-- front arm -->
<path fill="#f0a27d" d="M730 545 C770 600 810 650 845 700 L810 735 C770 700 730 660 700 640 Z"/>
<path fill="#4a3228" d="M812 715 L852 690 L872 722 L830 750 Z"/>
<path fill="#f0a27d" d="M860 712 C890 695 930 700 948 725 C955 760 940 790 905 800 C880 780 865 750 860 712 Z"/>
</svg>
<!-- pond icon -->
<svg style="left:120px;top:1610px" width="250" height="140" viewBox="0 0 2351 1317">
<path fill="#2f8b12" d="M100 800 C110 740 250 660 360 600 C380 560 330 500 335 430 C350 340 450 300 700 258 C850 240 950 230 1000 205 C1080 170 1300 180 1500 190 C1700 200 1900 260 1985 370 C2030 440 1940 490 1970 545 C2020 600 2200 660 2222 760 C2240 880 2120 940 2060 990 C2000 1060 1950 1110 1800 1150 C1600 1180 1400 1180 1300 1168 C1250 1160 1230 1135 1190 1130 C1050 1130 900 1135 800 1120 C700 1110 630 1090 610 1060 C570 1010 600 960 540 925 C450 890 250 920 150 870 C110 850 95 830 100 800 Z"/>
<path fill="#4fbef8" d="M250 785 C260 740 400 680 520 620 C600 570 540 500 530 445 C540 380 700 340 850 322 C1000 305 1400 305 1600 330 C1750 350 1800 420 1810 480 C1815 540 1760 580 1790 620 C1850 680 2020 720 2035 780 C2055 860 2000 925 1900 935 C1800 945 1720 930 1640 960 C1560 1000 1450 1020 1300 1032 C1200 1040 1150 1050 1100 1052 L660 960 C640 900 620 880 560 868 C450 850 300 870 262 830 C250 815 247 800 250 785 Z"/>
<path fill="#a0583a" d="M650 1000 C650 960 700 940 730 900 C760 860 800 850 840 870 C880 900 920 940 960 945 C1010 960 1060 1000 1095 1040 C1000 1050 850 1040 760 1035 C700 1030 650 1030 650 1000 Z"/>
<g stroke="#ddf3fd" stroke-width="12" stroke-linecap="round" fill="none"><path d="M950 385 L1415 372"/><path d="M890 420 L1020 408"/><path d="M610 430 C640 410 680 395 720 388"/><path d="M1590 385 C1640 395 1690 410 1720 435"/><path d="M770 600 L945 592"/><path d="M690 645 L830 640"/><path d="M1190 660 L1560 650"/><path d="M1175 715 L1210 713"/><path d="M1790 655 C1830 680 1870 695 1900 700"/><path d="M1810 835 L1900 838"/><path d="M1140 905 L1290 890"/><path d="M300 780 C320 755 350 735 380 725"/></g>
<g stroke="#0f5a2a" stroke-width="10" stroke-linecap="round" fill="none"><path d="M905 930 L860 760"/><path d="M940 920 L985 690"/><path d="M960 935 L1095 860"/><path d="M660 940 L625 815"/><path d="M1500 1100 L1445 940"/><path d="M1610 1100 L1570 965"/><path d="M1640 1080 L1695 850"/><path d="M1730 1105 L1840 1025"/><path d="M420 420 L400 330"/><path d="M470 425 L480 360"/><path d="M1570 300 L1575 220"/><path d="M1640 300 L1675 255"/><path d="M2090 710 L2100 650"/></g>
<g stroke="#7a5a55" stroke-width="22" stroke-linecap="round" fill="none"><path d="M870 790 L853 740"/><path d="M978 720 L990 675"/><path d="M630 830 L620 795"/><path d="M1455 965 L1437 920"/><path d="M1687 890 L1700 838"/></g>
<g fill="#a0583a" opacity="0.8"><ellipse cx="1120" cy="255" rx="80" ry="25"/><ellipse cx="1900" cy="595" rx="30" ry="25"/><ellipse cx="1855" cy="1010" rx="25" ry="18"/></g>
</svg>
<!--ICONS-END-->

<!-- RING GRAPHIC -->
<!--RING-START-->
<svg style="left:0;top:0" width="3072" height="2049" viewBox="0 0 3072 2049">
<defs>
<linearGradient id="lk" x1="0" y1="0" x2="0" y2="1">
<stop offset="0" stop-color="#cc5668"/><stop offset="0.3" stop-color="#d95b6e"/><stop offset="0.6" stop-color="#ef6378"/><stop offset="0.8" stop-color="#fb6377"/><stop offset="1" stop-color="#ff4d61"/>
</linearGradient>
<clipPath id="gc"><circle cx="2757.3" cy="1460.2" r="214"/></clipPath>
<radialGradient id="gr" cx="2757.3" cy="1460.2" r="220.3" gradientUnits="userSpaceOnUse"><stop offset="0" stop-color="#fd7c17"/><stop offset="0.955" stop-color="#fd7c17"/><stop offset="0.985" stop-color="#ee6f10"/><stop offset="1" stop-color="#e0660e"/></radialGradient>
</defs>
<g fill="none" stroke="#145805" stroke-linecap="round">
<circle cx="2239" cy="1281" r="553" stroke-width="23.4" pathLength="85" stroke-dasharray="0 1" transform="rotate(0.05 2239 1281)"/>
<circle cx="2239" cy="1281" r="590.4" stroke-width="15.8" pathLength="85" stroke-dasharray="0 1" transform="rotate(2.3 2239 1281)"/>
<circle cx="2239" cy="1281" r="621.6" stroke-width="12.2" pathLength="90" stroke-dasharray="0 1" transform="rotate(0.55 2239 1281)"/>
</g>
<circle cx="2239" cy="1281" r="487.8" fill="none" stroke="#115403" stroke-width="37"/>
<!-- small house -->
<path fill="#633b29" d="M2239.2 1024.9 L2335.8 1111.6 H2307.1 V1190.3 H2259 V1131.3 H2219.5 V1190.3 H2170.7 V1111.6 H2142 Z"/>
<!-- parks -->
<circle cx="2633.5" cy="887.4" r="233.8" fill="#c9a981"/>
<!-- lakes -->
<circle cx="1705" cy="1359.6" r="169.2" fill="url(#lk)"/>
<!-- hiking -->
<circle cx="2184.4" cy="1769.2" r="187.3" fill="#58abec"/>
<!-- golf -->
<circle cx="2757.3" cy="1460.2" r="220.3" fill="url(#gr)"/>
<circle cx="2632.6" cy="1399" r="209" fill="#fb7309" clip-path="url(#gc)"/>
</svg>
<!--RING-END-->

<div class="t w" id="c1n" style="left:2587.4px;top:794.2px;font-size:79.44px;letter-spacing:-0.9px;transform-origin:0 0;transform:scaleX(1.08);">38</div>
<div class="t w" id="c1t" style="left:2507.3px;top:905.2px;font-size:80.87px;letter-spacing:2.554px;transform-origin:0 0;transform:scaleX(0.92);">PARKS</div>
<div class="t w" id="c2n" style="left:1682.5px;top:1272.5px;font-size:68.31px;">3</div>
<div class="t w" id="c2t" style="left:1600.3px;top:1364px;font-size:68.41px;letter-spacing:0.38px;transform-origin:0 0;transform:scaleX(0.92);">LAKES</div>
<div class="t w" id="c3n" style="left:2166.8px;top:1687.3px;font-size:60px;">5</div>
<div class="t w" id="c3t" style="left:2080.9px;top:1768.9px;font-size:60.29px;letter-spacing:0.28px;">HIKING</div>
<div class="t w" id="c4n" style="left:2706.2px;top:1359.8px;font-size:83.19px;letter-spacing:-8.2px;">17</div>
<div class="t w" id="c4t" style="left:2550px;top:1470.4px;font-size:50px;letter-spacing:0.618px;">GOLF COURSES</div>
<div class="t" id="w1" style="left:2086.2px;top:1240.3px;font-size:95.86px;letter-spacing:5.08px;color:#633b29;">within</div>
<div class="t" id="w2" style="left:2079.2px;top:1370px;font-size:95.65px;letter-spacing:2.514px;color:#633b29;">10 miles</div>

<div class="t" id="disc" style="left:0;top:1962px;font-size:40.58px;color:#111;width:3072px;height:48px;"><span style="position:absolute;left:138.4px;top:0;letter-spacing:0.989px;transform-origin:0 0;transform:scaleX(0.95)">DISCLAIMER:</span> <span style="position:absolute;left:402.3px;top:0;letter-spacing:1.302px">The information in this report is from third-party sources and its accuracy cannot be guaranteed.</span></div>
</body>
</html>
